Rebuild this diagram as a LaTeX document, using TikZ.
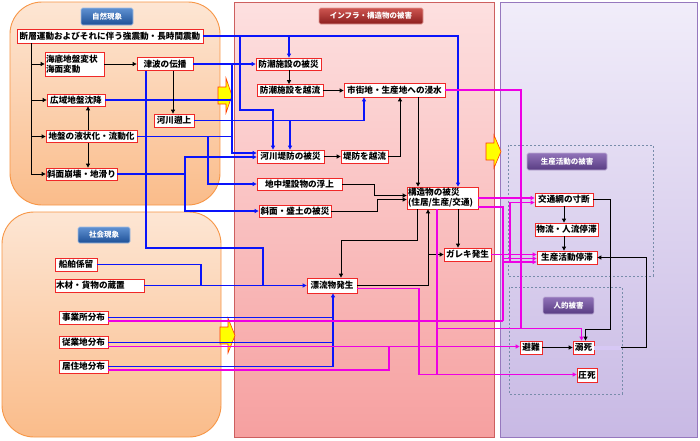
\documentclass[tikz,border=0pt]{standalone}
\usepackage{fontspec}
\setmainfont{Noto Sans CJK JP}
\usetikzlibrary{arrows.meta,calc}
\definecolor{boxred}{RGB}{240,40,40}
\definecolor{lineblue}{RGB}{10,20,250}
\definecolor{linemag}{RGB}{238,0,228}
\definecolor{lavbar}{RGB}{215,200,245}
\definecolor{natTop}{RGB}{253,230,212}
\definecolor{natBot}{RGB}{250,188,138}
\definecolor{natBorder}{RGB}{247,150,70}
\definecolor{infTop}{RGB}{253,224,224}
\definecolor{infBot}{RGB}{246,160,160}
\definecolor{infBorder}{RGB}{205,95,95}
\definecolor{purTop}{RGB}{241,237,250}
\definecolor{purBot}{RGB}{200,185,228}
\definecolor{purBorder}{RGB}{150,120,190}
\definecolor{dashgray}{RGB}{120,140,170}
\definecolor{bbTop}{RGB}{95,145,210}
\definecolor{bbBot}{RGB}{30,80,150}
\definecolor{brTop}{RGB}{205,85,80}
\definecolor{brBot}{RGB}{140,30,30}
\definecolor{bpTop}{RGB}{145,115,185}
\definecolor{bpBot}{RGB}{88,60,130}
\definecolor{yarrowfill}{RGB}{255,255,0}
\definecolor{yarrowdraw}{RGB}{255,60,0}
\begin{document}
\begin{tikzpicture}[x=1pt,y=-1pt,
  box/.style={draw=boxred, line width=0.8pt, fill=white, inner xsep=1pt, inner ysep=0pt,
    font=\bfseries\fontsize{8.6}{10}\selectfont, text=black},
  wh/.style 2 args={minimum width=#1pt, minimum height=#2pt},
  bl/.style={draw=lineblue, line width=1.1pt},
  bk/.style={draw=black, line width=0.9pt},
  mg/.style={draw=linemag, line width=1.1pt},
  tip/.style={-{Triangle[length=4pt,width=4pt]}},
  btn/.style={rounded corners=1.5pt, line width=0.6pt, text=white, inner sep=0pt,
    font=\bfseries\fontsize{7.5}{8}\selectfont},
  btnblue/.style={btn, draw=bbTop!60!white, top color=bbTop, bottom color=bbBot},
  btnred/.style={btn, draw=brTop!60!white, top color=brTop, bottom color=brBot},
  btnpur/.style={btn, draw=bpTop!60!white, top color=bpTop, bottom color=bpBot},
  dashbox/.style={draw=dashgray, line width=0.9pt, dash pattern=on 2pt off 2pt},
  yarrow/.style={fill=yarrowfill, draw=yarrowdraw, line width=0.6pt}
]
\useasboundingbox (0,0) rectangle (700,440);
\fill[white] (0,0) rectangle (700,440);
% panels
\draw[natBorder, line width=0.9pt, top color=natTop, bottom color=natBot, rounded corners=32pt] (10,2) rectangle (220,205);
\draw[natBorder, line width=0.9pt, top color=natTop, bottom color=natBot, rounded corners=32pt] (2,212) rectangle (221,437);
\draw[infBorder, line width=0.9pt, top color=infTop, bottom color=infBot] (234,2) rectangle (494,437);
\draw[purBorder, line width=0.9pt, top color=purTop, bottom color=purBot] (500,2) rectangle (697,437);
\draw[dashbox] (508,145) rectangle (653,276);
\draw[dashbox] (509,287) rectangle (622,394);
% yellow arrows
\draw[yarrow] (218,87) -- (226,87) -- (226,78) -- (232,95.5) -- (226,113) -- (226,104) -- (218,104) -- cycle;
\draw[yarrow] (486,143) -- (494,143) -- (494,135) -- (501,151.5) -- (494,168) -- (494,160) -- (486,160) -- cycle;
\draw[yarrow] (220,327) -- (228,327) -- (228,318) -- (235,335.5) -- (228,353) -- (228,344) -- (220,344) -- cycle;
% headers
\node[btnblue, wh={52}{17}] (hNat) at (107,16.5) {自然現象};
\node[btnblue, wh={52}{16}] (hSoc) at (104,235) {社会現象};
\node[btnred, wh={104}{16}] (hInf) at (371,16) {インフラ・構造物の被害};
\node[btnpur, wh={80}{17}] (hProd) at (567,161.5) {生産活動の被害};
\node[btnpur, wh={51}{17}] (hHum) at (568.5,305.5) {人的被害};
% nodes: natural
\node[box, wh={186}{14}] (n1) at (110,36) {断層運動およびそれに伴う強震動・長時間震動};
\node[box, text width=57pt, align=left, minimum height=24pt] (n2) at (74.5,64) {海底地盤変状\\海面変動};
\node[box, wh={56}{13}] (n3) at (165,64) {津波の伝播};
\node[box, wh={58}{12}] (n4) at (76,100) {広域地盤沈降};
\node[box, wh={40}{13}] (n5) at (174,120.5) {河川遡上};
\node[box, wh={91}{12}] (n6) at (91.5,136.5) {地盤の液状化・流動化};
\node[box, wh={71}{12}] (n7) at (81.5,174) {斜面崩壊・地滑り};
% infra
\node[box, wh={65}{12}] (n8) at (288.5,64) {防潮施設の被災};
\node[box, wh={66}{12}] (n9) at (290,90.5) {防潮施設を越流};
\node[box, wh={101}{14}] (n10) at (394.5,90) {市街地・生産地への浸水};
\node[box, wh={67}{13}] (n11) at (290.5,156.5) {河川堤防の被災};
\node[box, wh={47}{13}] (n12) at (364.5,156.5) {堤防を越流};
\node[box, wh={85}{12}] (n13) at (299.5,184) {地中埋設物の浮上};
\node[box, wh={72}{12}] (n14) at (295,211) {斜面・盛土の被災};
\node[box, text width=69pt, align=left, minimum height=22pt] (n15) at (442.5,198) {構造物の被災\\(住居/生産/交通)};
\node[box, wh={47}{13}] (n16) at (467.5,254.5) {ガレキ発生};
\node[box, wh={50}{15}] (n17) at (332,285.5) {漂流物発生};
% social
\node[box, wh={42}{13}] (n18) at (76,264.5) {船舶係留};
\node[box, text width=87pt, align=left, minimum height=13pt] (n19) at (99.5,285.5) {木材・貨物の蔵置};
\node[box, wh={49}{13}] (n20) at (83.5,317.5) {事業所分布};
\node[box, wh={49}{12}] (n21) at (83.5,342.5) {従業地分布};
\node[box, wh={49}{13}] (n22) at (83.5,366.5) {居住地分布};
% purple
\node[box, wh={58}{13}] (n23) at (564,199.5) {交通網の寸断};
\node[box, wh={63}{13}] (n24) at (566.5,229.5) {物流・人流停滞};
\node[box, wh={60}{13}] (n25) at (567,257.5) {生産活動停滞};
\node[box, wh={22}{13}] (n26) at (531,347.5) {避難};
\node[box, wh={21}{13}] (n27) at (583.5,347.5) {溺死};
\node[box, wh={20}{14}] (n28) at (587,375) {圧死};
% ---------- blue connectors
\coordinate (bA) at (458,36);
\coordinate (bB) at (289,36);
\coordinate (bC) at (240,36);
\coordinate (bC2) at (273,110);
\draw[bl,tip] (n1.east) -- (bA) -- (n15.north -| bA);
\draw[bl,tip] (bB) -- (n8.north -| bB);
\draw[bl,tip] (bC) |- (bC2) -- (n11.north -| bC2);
\coordinate (bD) at (232,64);
\coordinate (bD2) at (232,153);
\draw[bl,tip] (n3.east) -- (n8.west);
\draw[bl,tip] (bD) -- (bD2) -- (n11.west |- bD2);
\draw[bl] (n4.east) -- (n4.east -| bD);
\draw[bl] (n6.east) -- (n6.east -| bD);
\coordinate (bE) at (208,136.5);
\coordinate (bE2) at (208,184);
\draw[bl,tip] (bE) -- (bE2) -- (n13.west);
\coordinate (bF) at (364,120.5);
\coordinate (bG) at (290,120.5);
\draw[bl,tip] (n5.east) -- (bF) -- (n10.south -| bF);
\draw[bl,tip] (bG) -- (n11.north -| bG);
\coordinate (bH) at (185,174);
\coordinate (bH1) at (185,157);
\coordinate (bH2) at (185,211);
\draw[bl] (n7.east) -- (bH);
\draw[bl,tip] (bH) -- (bH1) -- (n11.west |- bH1);
\draw[bl,tip] (bH) -- (bH2) -- (n14.west |- bH2);
\coordinate (bI) at (146,248);
\coordinate (bI2) at (263,248);
\draw[bl,tip] (n3.south -| bI) -- (bI) -- (bI2) |- (n17.west);
\coordinate (bJ) at (201,264.5);
\draw[bl] (n18.east) -- (bJ) -- (bJ |- n17.west);
\draw[bl] (n19.east) -- (n19.east -| bI2);
\coordinate (bK) at (333,366.5);
\draw[bl] (n20.east) -- (n20.east -| bK);
\draw[bl] (n21.east) -- (n21.east -| bK);
\draw[bl] (n22.east) -- (bK);
\draw[bl,tip] (bK) -- (n17.south -| bK);
% ---------- black connectors
\coordinate (kS) at (31,174);
\draw[bk] (n1.south -| kS) -- (kS);
\draw[bk,tip] (n2.west -| kS) -- (n2.west);
\draw[bk,tip] (n4.west -| kS) -- (n4.west);
\draw[bk,tip] (n6.west -| kS) -- (n6.west);
\draw[bk,tip] (kS) -- (n7.west);
\draw[bk,tip] (n2.east) -- (n3.west);
\coordinate (k3) at (173,71);
\draw[bk,tip] (n3.south -| k3) -- (n5.north -| k3);
\coordinate (k4) at (88,136);
\draw[bk,tip] (n6.north -| k4) -- (n4.south -| k4);
\draw[bk,tip] (n6.south -| k4) -- (n7.north -| k4);
\coordinate (k6) at (289,80);
\draw[bk,tip] (n8.south -| k6) -- (n9.north -| k6);
\draw[bk,tip] (n9.east) -- (n9.east -| n10.west);
\draw[bk,tip] (n11.east) -- (n12.west);
\coordinate (k9) at (400,156.5);
\draw[bk,tip] (n12.east) -- (k9) -- (n10.south -| k9);
\coordinate (k10) at (418,100);
\draw[bk,tip] (n10.south -| k10) -- (n15.north -| k10);
\coordinate (k11a) at (374,184);
\coordinate (k11b) at (374,195.5);
\draw[bk,tip] (n13.east) -- (k11a) -- (k11b) -- (n15.west |- k11b);
\coordinate (k12a) at (377,211);
\coordinate (k12b) at (377,199.5);
\draw[bk,tip] (n14.east) -- (k12a) -- (k12b) -- (n15.west |- k12b);
\coordinate (k13a) at (417,240);
\coordinate (k13b) at (341,240);
\draw[bk,tip] (n15.south -| k13a) -- (k13a) -- (k13b) -- (n17.north -| k13b);
\coordinate (k14) at (428,285.5);
\draw[bk,tip] (n17.east) -- (k14) -- (n15.south -| k14);
\coordinate (k15) at (428,254.5);
\draw[bk,tip] (k15) -- (n16.west);
\coordinate (k16) at (458,230);
\draw[bk,tip] (n15.south -| k16) -- (n16.north -| k16);
\coordinate (k17) at (564,215);
\draw[bk,tip] (n23.south -| k17) -- (n24.north -| k17);
\draw[bk,tip] (n24.south -| k17) -- (n25.north -| k17);
\coordinate (k19a) at (610,199.5);
\coordinate (k19b) at (610,329);
\coordinate (k19c) at (585.5,329);
\draw[bk,tip] (n23.east) -- (k19a) -- (k19b) -- (k19c) -- (n27.north -| k19c);
\draw[bk,tip] (n26.east) -- (n27.west);
\coordinate (k21a) at (621,347.5);
\coordinate (k21b) at (646,347.5);
\coordinate (k21c) at (646,257.5);
\draw[lavbar, line width=4pt] (n27.east) -- (k21a);
\draw[bk,tip] (k21a) -- (k21b) -- (k21c) -- (n25.east);
% ---------- magenta connectors
\coordinate (m1a) at (521,90);
\coordinate (m1b) at (521,328.5);
\coordinate (m1c) at (581.5,328.5);
\draw[mg,tip] (n10.east) -- (m1a) -- (m1b) -- (m1c) -- (n27.north -| m1c);
\coordinate (m2a) at (437,328.5);
\coordinate (m2b) at (437,374.5);
\draw[mg] (n15.south -| m2a) -- (m2b);
\draw[mg] (m2a) -- (m1b);
\coordinate (m17) at ($(n17.east)+(0,3)$);
\coordinate (m3b) at (419,374.5);
\draw[mg,tip] (m17) -- (m17 -| m3b) -- (m3b) -- (n28.west |- m3b);
\draw[mg,tip] (n15.east) -- (n15.east -| n23.west);
\coordinate (m15l) at ($(n15.east)+(0,9)$);
\coordinate (m5a) at (503,207);
\coordinate (m5b) at (503,321);
\coordinate (m20) at ($(n20.east)+(0,3.5)$);
\draw[mg] (m15l) -- (m15l -| m5a) -- (m5b);
\draw[mg] (m20) -- (m20 -| m5b);
\coordinate (m5c) at (503,258.5);
\coordinate (m5d) at (503,262);
\coordinate (m5e) at (510,262);
\coordinate (m5f) at (510,202.5);
\draw[mg,tip] (m5c) -- (n25.west |- m5c);
\draw[mg,tip] (m5d) -- (n25.west |- m5d);
\draw[mg,tip] (m5e) -- (m5f) -- (n23.west |- m5f);
\draw[mg,tip] (n16.east) -- (n16.east -| n25.west);
\coordinate (m21) at ($(n21.east)+(0,4)$);
\draw[mg,tip] (m21) -- (m21 -| n26.west);
\coordinate (m22) at ($(n22.east)+(0,3.5)$);
\coordinate (m8a) at (389,370);
\draw[mg] (m22) -- (m22 -| m8a) -- (m8a |- m21);
\end{tikzpicture}
\end{document}
